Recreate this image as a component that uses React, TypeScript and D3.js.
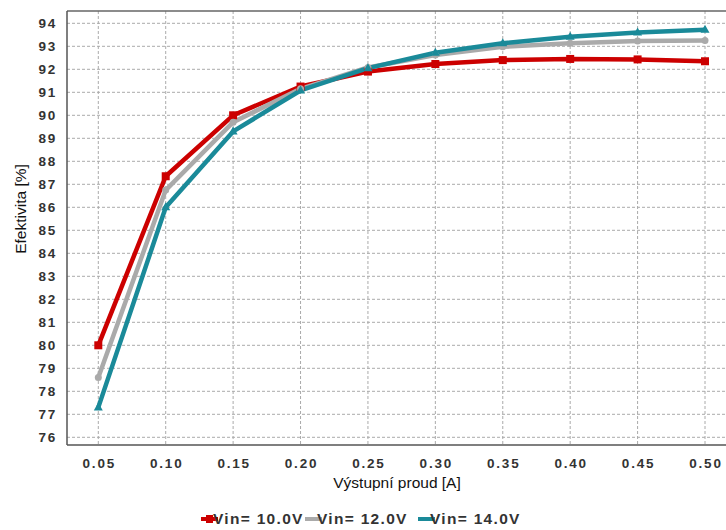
import React from "react";
import * as d3 from "d3";

const xValues = [0.05, 0.1, 0.15, 0.2, 0.25, 0.3, 0.35, 0.4, 0.45, 0.5];
const vin10 = [80.0, 87.35, 90.0, 91.25, 91.9, 92.23, 92.4, 92.45, 92.43, 92.35];
const vin12 = [78.6, 86.75, 89.7, 91.15, 92.08, 92.62, 92.98, 93.13, 93.23, 93.25];
const vin14 = [77.3, 86.0, 89.3, 91.08, 92.05, 92.72, 93.13, 93.42, 93.6, 93.72];
const yTicks = d3.range(76, 95, 1);
const seriesNames = ["Vin= 10.0V", "Vin= 12.0V", "Vin= 14.0V"];
const seriesColors = ["#cc0000", "#aaaaaa", "#1a8a99"];

export default function App() {
  const W = 726, H = 530;
  const left = 67, right = 726, top = 11, bottom = 445;
  const x = d3.scaleLinear().domain([0.05, 0.5]).range([98.3, 705]);
  const y = d3.scaleLinear().domain([76, 94]).range([437.3, 23.3]);
  const line = d3.line<[number, number]>().x(d => x(d[0])).y(d => y(d[1]));
  const series = [vin10, vin12, vin14];
  const fontFam = "'Liberation Sans', Arial, sans-serif";

  const marker = (i: number, cx: number, cy: number, key: string) => {
    const c = seriesColors[i];
    if (i === 0) return <rect key={key} x={cx - 4} y={cy - 4} width={8} height={8} fill={c} />;
    if (i === 1) return <circle key={key} cx={cx} cy={cy} r={3.5} fill={c} />;
    return <path key={key} d={`M${cx},${cy - 5}L${cx + 4.5},${cy + 3}L${cx - 4.5},${cy + 3}Z`} fill={c} />;
  };

  const legendX = [201, 305, 418];

  return (
    <svg width={W} height={H} style={{ position: "absolute", left: 0, top: 0 }}>
      <rect width={W} height={H} fill="#fff" />
      {yTicks.map(t => (
        <line key={"gy" + t} x1={left} x2={right} y1={y(t)} y2={y(t)} stroke="#aaa" strokeDasharray="3,2" strokeWidth={1} />
      ))}
      {xValues.map(v => (
        <line key={"gx" + v} x1={x(v)} x2={x(v)} y1={top} y2={bottom} stroke="#aaa" strokeDasharray="3,2" strokeWidth={1} />
      ))}
      <line x1={left} x2={right} y1={top} y2={top} stroke="#666" strokeWidth={1.5} />
      <line x1={left} x2={left} y1={top} y2={bottom} stroke="#555" strokeWidth={1.5} />
      <line x1={left} x2={right} y1={bottom} y2={bottom} stroke="#555" strokeWidth={1.5} />
      {yTicks.map(t => (
        <text key={"ty" + t} x={57} y={y(t)} dy="0.35em" textAnchor="end" fontFamily={fontFam} fontWeight="bold" fontSize={13.5} fill="#333" letterSpacing={1.8}>{t}</text>
      ))}
      {xValues.map(v => (
        <text key={"tx" + v} x={x(v) + 1} y={463} dy="0.35em" textAnchor="middle" fontFamily={fontFam} fontWeight="bold" fontSize={13.5} fill="#333" letterSpacing={1.8}>{v.toFixed(2)}</text>
      ))}
      <text x={397} y={488} textAnchor="middle" fontFamily={fontFam} fontSize={15.5} fill="#111">Výstupní proud [A]</text>
      <text transform={`translate(26,209) rotate(-90)`} textAnchor="middle" fontFamily={fontFam} fontSize={15.5} fill="#111">Efektivita [%]</text>
      {series.map((s, i) => (
        <path key={"l" + i} d={line(xValues.map((v, j) => [v, s[j]] as [number, number])) || ""} fill="none" stroke={seriesColors[i]} strokeWidth={4.5} strokeLinejoin="round" />
      ))}
      {series.map((s, i) => s.map((v, j) => marker(i, x(xValues[j]), y(v), `m${i}-${j}`)))}
      {seriesNames.map((n, i) => (
        <g key={"lg" + i}>
          <line x1={legendX[i]} x2={legendX[i] + 17} y1={519} y2={519} stroke={seriesColors[i]} strokeWidth={4} />
          {i === 0 && <rect x={legendX[i] + 5} y={515} width={7} height={8} fill={seriesColors[i]} />}
          <text x={legendX[i] + 12} y={519} dy="0.35em" fontFamily={fontFam} fontWeight="bold" fontSize={15.5} fill="#333" letterSpacing={1.3}>{n}</text>
        </g>
      ))}
    </svg>
  );
}
